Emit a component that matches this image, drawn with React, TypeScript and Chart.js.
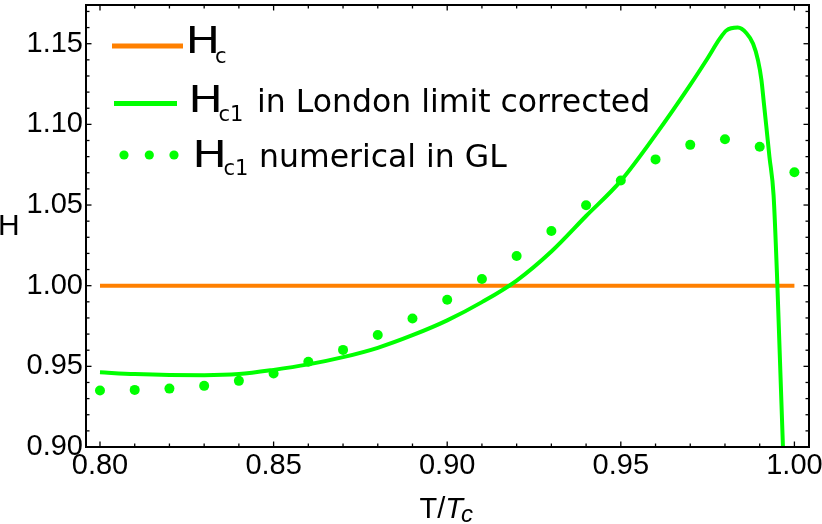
import React, { useEffect, useRef } from "react";
import { Chart, registerables } from "chart.js";

Chart.register(...registerables);

// ---- data ----
const dotT = [0.80, 0.81, 0.82, 0.83, 0.84, 0.85, 0.86, 0.87, 0.88, 0.89, 0.90, 0.91, 0.92, 0.93, 0.94, 0.95, 0.96, 0.97, 0.98, 0.99, 1.00];
const dotH = [0.9350, 0.9354, 0.9362, 0.9379, 0.9410, 0.9456, 0.9528, 0.9602, 0.9694, 0.9797, 0.9913, 1.0042, 1.0184, 1.0339, 1.0499, 1.0652, 1.0783, 1.0873, 1.0908, 1.0861, 1.0703];

const curveT = [0.800, 0.810, 0.820, 0.830, 0.840, 0.850, 0.860, 0.870, 0.880, 0.890, 0.900, 0.910, 0.920, 0.930, 0.940, 0.950, 0.960, 0.970, 0.975, 0.9785, 0.9804, 0.9837, 0.9862, 0.9881, 0.9895, 0.9905, 0.9912, 0.9919, 0.9928, 0.9940, 0.9951, 0.9967, 0.9975];
const curveH = [0.9463, 0.9452, 0.9446, 0.9445, 0.9452, 0.9478, 0.9512, 0.9557, 0.9615, 0.9693, 0.9785, 0.9898, 1.0032, 1.0212, 1.0432, 1.0650, 1.0935, 1.1245, 1.1410, 1.1531, 1.1582, 1.1600, 1.1565, 1.1500, 1.1398, 1.1275, 1.1132, 1.0989, 1.0800, 1.0560, 1.0000, 0.9000, 0.8400];

const hcT = [0.80, 1.00];
const hcH = [1.00, 1.00];

const xTicks = [0.80, 0.85, 0.90, 0.95, 1.00];
const yTicks = [0.90, 0.95, 1.00, 1.05, 1.10, 1.15];
const xMin = 0.79597;
const xMax = 1.0042;
const yMin = 0.90;
const yMax = 1.174;
const minorStep = 0.01;

const legendLabels = ["H", "c", "H", "c1", " in London limit corrected", "H", "c1", " numerical in GL"];
const xTitle = ["T/", "T", "c"];
const yTitle = "H";

// ---- styles ----
const ORANGE = "#ff8000";
const GREEN = "#00ff00";
const TICK_FONT = "'Liberation Sans', Arial, sans-serif";
const LEGEND_FONT = "'DejaVu Sans', Verdana, sans-serif";

function strokeLine(ctx: CanvasRenderingContext2D, x1: number, y1: number, x2: number, y2: number) {
  ctx.beginPath();
  ctx.moveTo(x1, y1);
  ctx.lineTo(x2, y2);
  ctx.stroke();
}

function drawBigH(ctx: CanvasRenderingContext2D, x: number, base: number) {
  ctx.save();
  ctx.translate(x, base);
  ctx.scale(1.25, 1);
  ctx.font = `37px ${LEGEND_FONT}`;
  ctx.fillText(legendLabels[0], 0, 0);
  ctx.restore();
}

const framePlugin = {
  id: "frameTicks",
  afterDatasetsDraw(chart: any) {
    const { ctx, chartArea: a, scales } = chart;
    const xs = scales.x;
    const ys = scales.y;
    ctx.save();
    ctx.strokeStyle = "#000";
    ctx.lineWidth = 1.3;
    const nx = Math.round((xTicks[xTicks.length - 1] - xTicks[0]) / minorStep);
    for (let i = 0; i <= nx; i++) {
      const v = xTicks[0] + i * minorStep;
      const px = xs.getPixelForValue(v);
      const len = i % 5 === 0 ? 5.5 : 3.5;
      strokeLine(ctx, px, a.bottom, px, a.bottom - len);
      strokeLine(ctx, px, a.top, px, a.top + len);
    }
    const ny = Math.round((yMax - yTicks[0]) / minorStep);
    for (let i = 0; i <= ny; i++) {
      const v = yTicks[0] + i * minorStep;
      const py = ys.getPixelForValue(v);
      const len = i % 5 === 0 ? 5.5 : 3.5;
      strokeLine(ctx, a.left, py, a.left + len, py);
      strokeLine(ctx, a.right, py, a.right - len, py);
    }
    ctx.lineWidth = 2;
    ctx.strokeRect(a.left, a.top, a.right - a.left, a.bottom - a.top);
    ctx.restore();
  },
  afterDraw(chart: any) {
    const { ctx } = chart;
    ctx.save();
    ctx.fillStyle = "#000";
    ctx.textAlign = "left";
    ctx.textBaseline = "alphabetic";

    // legend row 1
    ctx.strokeStyle = ORANGE;
    ctx.lineWidth = 5;
    strokeLine(ctx, 112, 46, 183, 46);
    drawBigH(ctx, 185.5, 53.3);
    ctx.font = `21px ${LEGEND_FONT}`;
    ctx.fillText(legendLabels[1], 215, 62.5);

    // legend row 2
    ctx.strokeStyle = GREEN;
    strokeLine(ctx, 114, 103.5, 177, 103.5);
    drawBigH(ctx, 188.2, 111.7);
    ctx.font = `21px ${LEGEND_FONT}`;
    ctx.fillText(legendLabels[3], 218.5, 120.5);
    ctx.font = `31.5px ${LEGEND_FONT}`;
    ctx.fillText(legendLabels[4], 247, 111.7);

    // legend row 3
    ctx.fillStyle = GREEN;
    [124, 149.3, 174].forEach((cx) => {
      ctx.beginPath();
      ctx.arc(cx, 155, 4.6, 0, Math.PI * 2);
      ctx.fill();
    });
    ctx.fillStyle = "#000";
    drawBigH(ctx, 192.2, 166.7);
    ctx.font = `21px ${LEGEND_FONT}`;
    ctx.fillText(legendLabels[6], 223.5, 174.5);
    ctx.font = `31.5px ${LEGEND_FONT}`;
    ctx.fillText(legendLabels[7], 249, 166.7);

    // y title (upright)
    ctx.font = `30px ${TICK_FONT}`;
    ctx.fillText(yTitle, -2, 235);

    // x title
    let x = 419.5;
    ctx.font = `29px ${TICK_FONT}`;
    ctx.fillText(xTitle[0], x, 518.3);
    x += ctx.measureText(xTitle[0]).width;
    ctx.font = `italic 29px ${TICK_FONT}`;
    ctx.fillText(xTitle[1], x, 518.3);
    x += ctx.measureText(xTitle[1]).width;
    ctx.font = `italic 24px ${TICK_FONT}`;
    ctx.fillText(xTitle[2], x - 2, 521.5);

    ctx.restore();
  },
};

export default function App() {
  const ref = useRef<HTMLCanvasElement | null>(null);

  useEffect(() => {
    if (!ref.current) return;
    const chart = new Chart(ref.current, {
      type: "line",
      data: {
        datasets: [
          {
            label: "Hc1 numerical in GL",
            data: dotT.map((t, i) => ({ x: t, y: dotH[i] })),
            showLine: false,
            pointRadius: 5,
            pointBackgroundColor: GREEN,
            pointBorderWidth: 0,
            borderColor: GREEN,
            backgroundColor: GREEN,
          },
          {
            label: "Hc1 in London limit corrected",
            data: curveT.map((t, i) => ({ x: t, y: curveH[i] })),
            borderColor: GREEN,
            borderWidth: 4,
            pointRadius: 0,
            cubicInterpolationMode: "monotone",
            fill: false,
          },
          {
            label: "Hc",
            data: hcT.map((t, i) => ({ x: t, y: hcH[i] })),
            borderColor: ORANGE,
            borderWidth: 4,
            pointRadius: 0,
            fill: false,
          },
        ],
      },
      options: {
        responsive: false,
        animation: false,
        devicePixelRatio: 1,
        events: [],
        layout: { padding: { top: 1, right: 13, bottom: 0, left: 0 } },
        plugins: { legend: { display: false }, tooltip: { enabled: false } },
        scales: {
          x: {
            type: "linear",
            min: xMin,
            max: xMax,
            grid: { display: false, drawTicks: false },
            border: { display: false },
            afterBuildTicks: (s: any) => {
              s.ticks = xTicks.map((v) => ({ value: v }));
            },
            afterFit: (s: any) => {
              s.height = 77;
              s.paddingLeft = 0;
              s.paddingRight = 0;
            },
            ticks: {
              padding: 2,
              color: "#000",
              maxRotation: 0,
              autoSkip: false,
              font: { family: TICK_FONT, size: 29 },
              callback: (v: any) => Number(v).toFixed(2),
            },
          },
          y: {
            type: "linear",
            min: yMin,
            max: yMax,
            grid: { display: false, drawTicks: false },
            border: { display: false },
            afterBuildTicks: (s: any) => {
              s.ticks = yTicks.map((v) => ({ value: v }));
            },
            afterFit: (s: any) => {
              s.width = 86;
              s.paddingTop = 0;
              s.paddingBottom = 0;
            },
            ticks: {
              padding: 3,
              color: "#000",
              autoSkip: false,
              font: { family: TICK_FONT, size: 29 },
              callback: (v: any) => Number(v).toFixed(2),
            },
          },
        },
      },
      plugins: [framePlugin],
    } as any);
    return () => chart.destroy();
  }, []);

  return (
    <div style={{ position: "fixed", left: 0, top: 0, width: 822, height: 524, background: "#fff" }}>
      <canvas ref={ref} width={822} height={524} style={{ display: "block" }} />
    </div>
  );
}
